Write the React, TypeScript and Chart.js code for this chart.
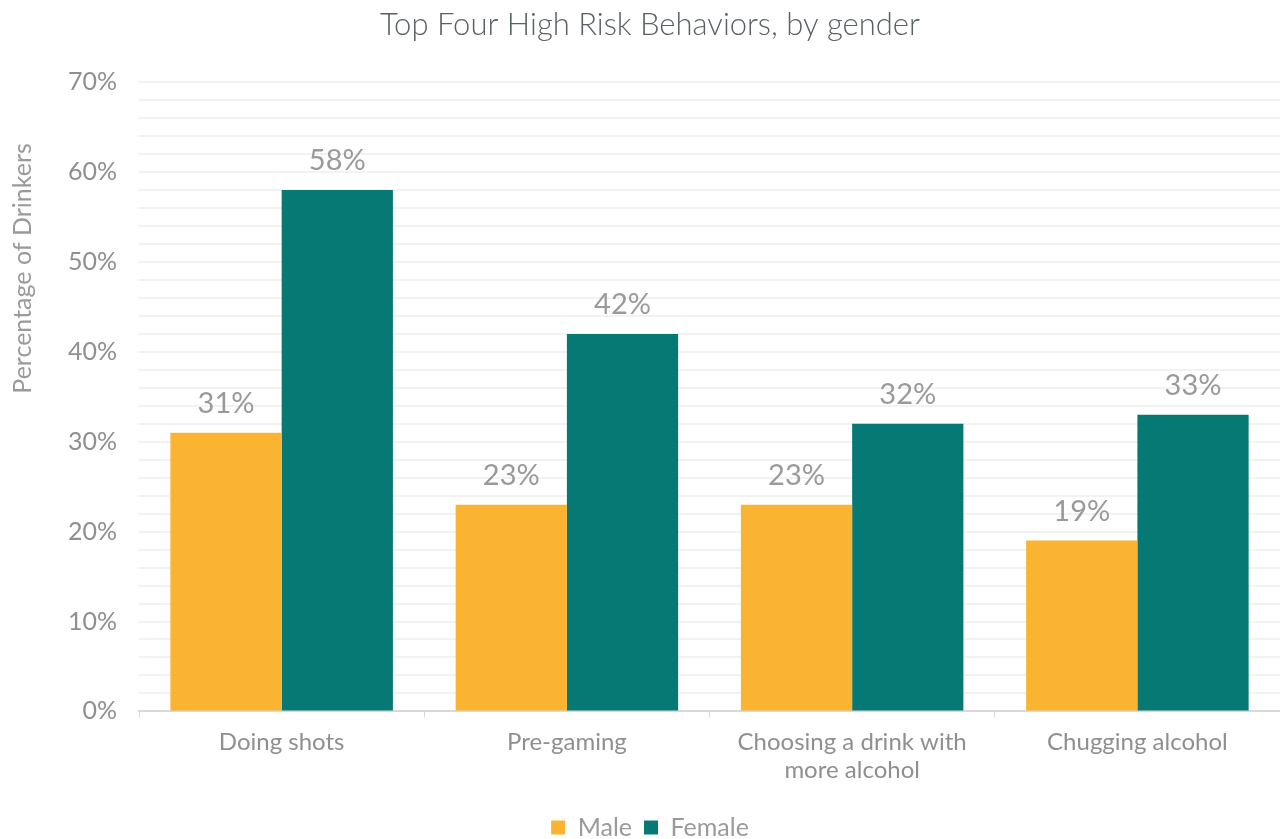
import React, { useEffect, useRef } from "react";
import { Chart, registerables } from "chart.js";
Chart.register(...registerables);

const categories: (string | string[])[] = ["Doing shots", "Pre-gaming", ["Choosing a drink with", "more alcohol"], "Chugging alcohol"];
const maleValues = [31, 23, 23, 19];
const femaleValues = [58, 42, 32, 33];
const seriesNames = ["Male", "Female"];
const chartTitle = "Top Four High Risk Behaviors, by gender";
const yAxisTitle = "Percentage of Drinkers";

const FONT = "Lato";
const GRAY = "#8f8f8f";

const dataLabelPlugin = {
  id: "dataLabels",
  afterDatasetsDraw(chart: any) {
    const ctx = chart.ctx;
    ctx.save();
    ctx.font = `400 29px ${FONT}`;
    ctx.fillStyle = "#9a9a9a";
    ctx.textAlign = "center";
    ctx.textBaseline = "alphabetic";
    chart.data.datasets.forEach((ds: any, i: number) => {
      const meta = chart.getDatasetMeta(i);
      meta.data.forEach((bar: any, j: number) => {
        ctx.fillText(ds.data[j] + "%", bar.x, bar.y - 20);
      });
    });
    ctx.restore();
  },
};

const yTitlePlugin = {
  id: "yTitle",
  afterDraw(chart: any) {
    const ctx = chart.ctx;
    ctx.save();
    ctx.font = `400 25px ${FONT}`;
    ctx.fillStyle = "#9a9a9a";
    ctx.textAlign = "center";
    ctx.textBaseline = "middle";
    const area = chart.chartArea;
    ctx.translate(23, area.top + (area.bottom - area.top) * 0.296);
    ctx.rotate(-Math.PI / 2);
    ctx.fillText(yAxisTitle, 0, 0);
    ctx.restore();
  },
};

export default function App() {
  const ref = useRef<HTMLCanvasElement>(null);
  useEffect(() => {
    const chart = new Chart(ref.current!, {
      type: "bar",
      data: {
        labels: categories,
        datasets: [
          { label: seriesNames[0], data: maleValues, backgroundColor: "#FAB431", barPercentage: 1, categoryPercentage: 0.78 },
          { label: seriesNames[1], data: femaleValues, backgroundColor: "#077975", barPercentage: 1, categoryPercentage: 0.78 },
        ],
      },
      options: {
        animation: false,
        responsive: false,
        maintainAspectRatio: false,
        layout: { padding: { top: 0, right: 0, left: 20, bottom: -11 } },
        plugins: {
          title: {
            display: true,
            text: chartTitle,
            color: "#5a6164",
            font: { family: FONT, size: 31, weight: "300" as any },
            padding: { top: 6, bottom: 39 },
          },
          legend: {
            position: "bottom",
            labels: {
              color: "#9a9a9a",
              font: { family: FONT, size: 25, weight: "400" as any },
              boxWidth: 14,
              boxHeight: 14,
              padding: 12,
            },
          },
          tooltip: { enabled: false },
        },
        scales: {
          x: {
            afterFit: (scale: any) => {
              scale.height += 8;
            },
            grid: { display: true, drawOnChartArea: false, drawTicks: true, tickLength: 6, offset: true, color: "#d9d9d9" },
            border: { color: "#d9d9d9", width: 2 },
            ticks: { color: GRAY, font: { family: FONT, size: 24, weight: "400" as any, lineHeight: 1.2 }, padding: 10, maxRotation: 0 },
          },
          y: {
            min: 0,
            max: 70,
            afterFit: (scale: any) => {
              scale.width += 26;
            },
            grid: { color: "#f2f2f2", lineWidth: 2, drawTicks: false },
            border: { display: false },
            ticks: {
              stepSize: 2,
              autoSkip: false,
              padding: 22,
              color: GRAY,
              font: { family: FONT, size: 25, weight: "400" as any },
              callback: (v: any) => (Number(v) % 10 === 0 ? v + "%" : ""),
            },
          },
        },
      },
      plugins: [dataLabelPlugin, yTitlePlugin],
    });
    return () => chart.destroy();
  }, []);
  return (
    <div style={{ position: "fixed", left: 0, top: 0, width: 1280, height: 839, background: "#fff" }}>
      <canvas ref={ref} width={1280} height={839} style={{ width: 1280, height: 839 }} />
    </div>
  );
}
